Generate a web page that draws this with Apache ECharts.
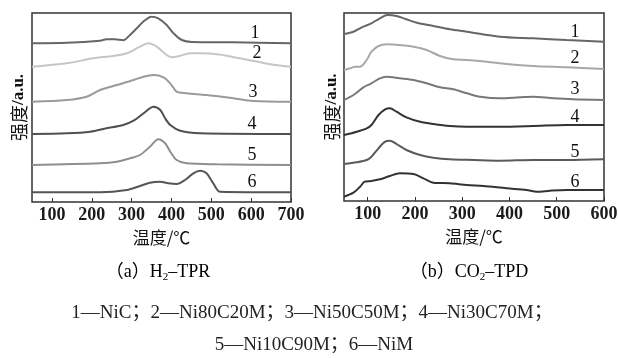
<!DOCTYPE html>
<html>
<head>
<meta charset="utf-8">
<script src="https://cdn.jsdelivr.net/npm/echarts@6/dist/echarts.min.js"></script>
<style>
  html, body { margin: 0; padding: 0; background: #fff; }
  #main { width: 618px; height: 358px; }
</style>
</head>
<body>
<div id="main"></div>
<script>
// (a) H2-TPR  —  [温度, 强度(偏移后)]
var tpr1 = [[50,158.7],[137,159.3],[221,161.3],[237,162.7],[258,162.7],[279,161.7],[296,167],[313,173.7],[329,180.3],[350,185.3],[367,183.7],[388,177],[405,168.7],[426,162],[451,160],[555,159.7],[700,158.7]];
var tpr2 = [[50,135.3],[137,138.7],[204,143.7],[254,146],[288,148.7],[321,155.3],[342,158.7],[363,155.3],[388,147],[400,144.7],[420,146],[446,148.7],[471,148.7],[520,147.5],[572,143.7],[620,140],[660,137],[700,135.3]];
var tpr3 = [[50,100.3],[137,102],[187,105.3],[221,112],[263,117],[305,122],[330,125.3],[355,127],[380,124.7],[397,118.7],[413,110.3],[438,108.7],[488,107],[555,103.7],[605,101],[700,100.3]];
var tpr4 = [[50,68],[137,68.7],[196,70.3],[237,73.7],[279,77],[305,81.3],[330,88.7],[355,95.3],[372,92],[384,83.7],[397,77],[422,71.3],[472,68.7],[700,68]];
var tpr5 = [[50,37],[221,38.7],[263,40.3],[296,43.7],[321,47],[346,55.3],[367,62.7],[384,58.7],[397,50.3],[413,42],[438,38.7],[514,37.7],[700,37]];
var tpr6 = [[50,9.7],[221,9.7],[288,12],[321,16],[346,19.3],[371,20.3],[392,18.7],[413,18],[434,22],[455,28.7],[472,31.3],[488,28.7],[505,18.7],[522,10.3],[700,9.7]];

// (b) CO2-TPD
var tpd1 = [[50,167],[70,169.3],[91,174.3],[108,177.7],[126,182.7],[142,186],[161,185],[182,181.7],[204,178.3],[239,175],[274,171.7],[310,169.3],[380,164.3],[450,162.7],[521,161],[600,159.3]];
var tpd2 = [[50,131],[63,132.7],[73,134.3],[84,134.3],[98,141],[108,149.3],[123,155],[140,156.7],[168,156],[197,154.3],[225,151],[253,145],[281,141.7],[310,141],[352,139.3],[394,137],[450,135],[521,133.7],[600,132]];
var tpd3 = [[50,101],[70,106],[91,113.7],[108,117.7],[126,122.7],[140,124.3],[168,122.7],[197,121],[225,117.7],[253,113.7],[281,111.7],[310,107.7],[338,104.3],[380,102.7],[422,103.7],[450,104.3],[493,102.7],[535,101.7],[600,101]];
var tpd4 = [[50,66],[77,69.3],[98,72.7],[108,76],[123,86],[137,91.7],[147,92.7],[161,89.3],[182,83.7],[211,79.3],[239,77],[274,75],[310,74.3],[380,74.3],[450,75],[521,76],[600,76]];
var tpd5 = [[50,37],[77,38.7],[98,41],[108,44.3],[123,52.7],[137,59.3],[147,60.3],[161,57],[182,51],[211,46],[239,43.3],[274,41.7],[324,41],[380,40.3],[450,41],[521,41],[600,41.7]];
var tpd6 = [[50,4.3],[70,8.3],[84,14.3],[94,19.3],[108,20],[126,21.7],[147,25],[168,27.7],[197,27],[218,22.7],[239,18.3],[274,17.7],[310,16],[345,15],[394,12.7],[436,11],[458,9.3],[486,10.3],[521,11],[600,11]];

var tprTicks = [100, 200, 300, 400, 500, 600, 700];
var tpdTicks = [100, 200, 300, 400, 500, 600];
var curveNames = ['1', '2', '3', '4', '5', '6'];
var tprColors = ['#666666', '#c6c6c6', '#9a9a9a', '#505050', '#8e8e8e', '#555555'];
var tpdColors = ['#666666', '#a8a8a8', '#787878', '#333333', '#5a5a5a', '#333333'];

var serif = '"Liberation Serif", "Noto Sans CJK SC", serif';
var cjk = '"Noto Sans CJK SC", "Liberation Serif", sans-serif';

var myChart = echarts.init(document.getElementById('main'), null, { renderer: 'canvas' });

function xAxisFor(idx, max, ticks) {
    return {
        type: 'value', gridIndex: idx, min: 50, max: max,
        name: '温度/℃', nameLocation: 'middle', nameGap: 24,
        nameTextStyle: { fontFamily: cjk, fontSize: 17, color: '#111' },
        axisLine: { show: false },
        axisTick: { show: true, inside: true, length: 4, lineStyle: { color: '#333', width: 1 }, customValues: ticks },
        axisLabel: { show: true, margin: 4, fontFamily: serif, fontSize: 18, fontWeight: 'bold', color: '#1a1a1a', customValues: ticks },
        splitLine: { show: false }
    };
}
function yAxisFor(idx, max, gap) {
    return {
        type: 'value', gridIndex: idx, min: 0, max: max,
        name: '{c|强度}{e|/a.u.}', nameLocation: 'middle', nameGap: gap, nameRotate: 90,
        nameTextStyle: { rich: {
            c: { fontFamily: cjk, fontSize: 18, color: '#111' },
            e: { fontFamily: serif, fontSize: 17, fontWeight: 'bold', color: '#111' }
        } },
        axisLine: { show: false }, axisTick: { show: false }, axisLabel: { show: false }, splitLine: { show: false }
    };
}
function lineSeries(idx, data, color) {
    return {
        type: 'line', xAxisIndex: idx, yAxisIndex: idx, data: data,
        smooth: 0.3, showSymbol: false, symbol: 'none', silent: true,
        lineStyle: { color: color, width: 2 }
    };
}

var tprData = [tpr1, tpr2, tpr3, tpr4, tpr5, tpr6];
var tpdData = [tpd1, tpd2, tpd3, tpd4, tpd5, tpd6];
var series = [];
tprData.forEach(function (d, i) { series.push(lineSeries(0, d, tprColors[i])); });
tpdData.forEach(function (d, i) { series.push(lineSeries(1, d, tpdColors[i])); });

// curve numbers beside each trace
var tprLabelPos = [[255,33],[257,53],[253,92],[252,124],[252,155],[252,182]];
var tpdLabelPos = [[575,32],[575,58],[575,89],[575,117],[575,152],[575,182]];
var graphics = [];
curveNames.forEach(function (n, i) {
    [tprLabelPos[i], tpdLabelPos[i]].forEach(function (p) {
        graphics.push({ type: 'text', x: p[0], y: p[1], style: {
            text: n, font: '18px ' + serif, fill: '#111', align: 'center', verticalAlign: 'middle' } });
    });
});

var capRich = {
    m: { fontFamily: serif, fontSize: 18, color: '#222', lineHeight: 22 },
    s: { fontFamily: serif, fontSize: 11, color: '#222', lineHeight: 12, verticalAlign: 'bottom' }
};
graphics.push({ type: 'text', x: 158, y: 272, style: {
    text: '{m|（a）H}{s|2}{m|–TPR}', rich: capRich, align: 'center', verticalAlign: 'middle' } });
graphics.push({ type: 'text', x: 469, y: 272, style: {
    text: '{m|（b）CO}{s|2}{m|–TPD}', rich: capRich, align: 'center', verticalAlign: 'middle' } });
graphics.push({ type: 'text', x: 312, y: 313, style: {
    text: '1—NiC；2—Ni80C20M；3—Ni50C50M；4—Ni30C70M；',
    font: '19px ' + serif, fill: '#222', align: 'center', verticalAlign: 'middle' } });
graphics.push({ type: 'text', x: 314, y: 345, style: {
    text: '5—Ni10C90M；6—NiM',
    font: '19px ' + serif, fill: '#222', align: 'center', verticalAlign: 'middle' } });

var option = {
    backgroundColor: '#fff',
    animation: false,
    grid: [
        { left: 32, top: 13, width: 259, height: 189, show: true, borderColor: '#333', borderWidth: 1.5, containLabel: false, outerBoundsMode: 'none' },
        { left: 344, top: 13, width: 260, height: 188, show: true, borderColor: '#333', borderWidth: 1.5, containLabel: false, outerBoundsMode: 'none' }
    ],
    xAxis: [ xAxisFor(0, 700, tprTicks), xAxisFor(1, 600, tpdTicks) ],
    yAxis: [ yAxisFor(0, 189, 4), yAxisFor(1, 188, 3) ],
    series: series,
    graphic: graphics
};

myChart.setOption(option);
</script>
</body>
</html>
